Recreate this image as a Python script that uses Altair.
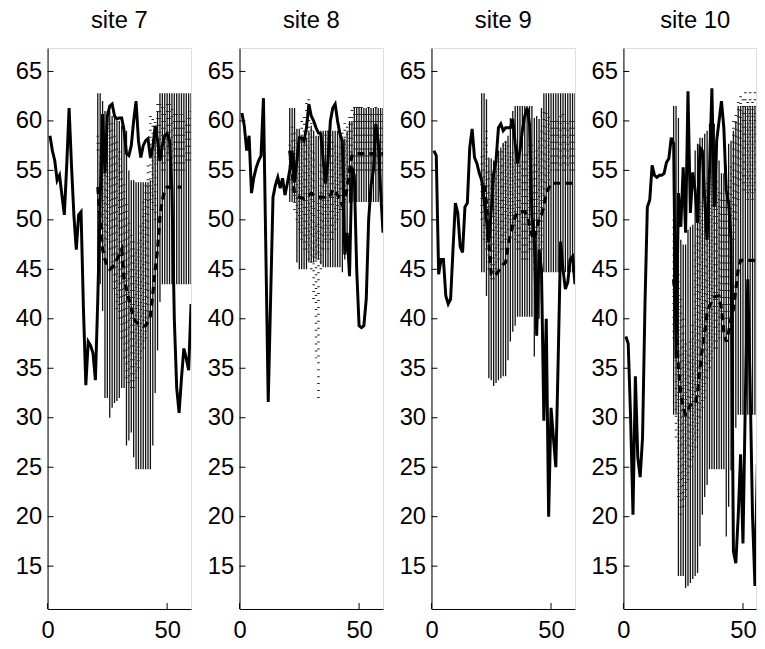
import altair as alt
import pandas as pd

FONT = "Liberation Sans"
YMIN, YMAX = 10.67, 67.37
H = 567

sites = ["site 7", "site 8", "site 9", "site 10"]
y_ticks = [15, 20, 25, 30, 35, 40, 45, 50, 55, 60, 65]
x_ticks = [0, 50]

# ---- site 7 ----
line7 = [58.5, 57, 56, 54, 54.5, 52.5, 50.5, 55.5, 61.3, 55.5,
         50.5, 47, 50.5, 50.8, 41, 33.3, 37.7, 37.3, 36.5, 33.8,
         42, 52, 60.7, 54.7, 60.5, 61.5, 61.7, 60.5, 60.2, 60.3,
         60.3, 59, 56.7, 56.5, 57.5, 60, 62, 58, 56.3, 57.5,
         58, 58.2, 56.3, 57.3, 59.5, 58, 56, 57.5, 58.5, 58.7,
         58, 53, 40, 33, 30.5, 34, 37, 36, 34.8, 41.5]
hi7 = [62.8, 62.8, 62, 61, 61, 61, 60.5, 60.5, 60, 60,
       59.5, 59.5, 59, 55, 54, 54, 53.8, 53.8, 53.8, 53.8,
       53.8, 53.8, 54, 57, 59, 61, 62.8, 62.8, 62.8, 62.8,
       62.8, 62.8, 62.8, 62.8, 62.8, 62.8, 62.8, 62.8, 62.8, 62.8]
lo7 = [43.5, 43.5, 40.8, 32, 32, 30, 31, 31.5, 31.7, 32,
       33, 33, 27.2, 27.7, 28.5, 26, 24.8, 24.8, 24.8, 24.8,
       24.8, 24.8, 24.8, 27.2, 32.5, 36.8, 41.7, 43.5, 43.5, 43.5,
       43.5, 43.5, 43.5, 43.5, 43.5, 43.5, 43.5, 43.5, 43.5, 43.5]
mean7 = [53.3, 50, 47, 46, 45.2, 45, 45.2, 45.5, 46, 46.5,
         47, 44, 43, 42, 41, 40, 39.7, 39.5, 39.4, 39.3,
         39.3, 39.7, 40.3, 42.5, 45, 47, 50.3, 52, 53, 53.3,
         53.3, 53.3, 53.3, 53.3, 53.3, 53.3]
dhi7 = [59, 58, 57, 58, 60, 60, 60, 59, 58, 57,
        55, 54, 52, 50, 49, 48, 47, 48, 50, 52,
        54, 56, 61, 60.5, 60, 62.3, 62, 61.5, 61, 62,
        62, 61.5, 61, 61, 60.5, 61, 60.5, 60, 60.5, 61]
dlo7 = [57, 50, 47, 46, 48, 47, 45, 43, 41, 40,
        38, 36, 34, 33.5, 33, 33, 34, 35, 36, 37,
        38, 40, 52, 51, 50, 56, 56, 55, 55, 56,
        56, 55.5, 55, 55, 55, 55, 55, 56, 56, 56]

# ---- site 8 ----
line8 = [60.8, 59.5, 57, 58.5, 52.7, 54.3, 55.3, 56, 56.5, 62.3,
         47, 31.6, 42, 52.3, 53.5, 54.3, 53.2, 54.2, 52.5, 53.7,
         55, 57, 53.8, 56, 58.3, 58.3, 58, 59.3, 61.7, 60.5,
         60, 59.3, 58.8, 58.7, 56, 53.7, 56, 60, 61.3, 61.7,
         60, 58.7, 58, 46.5, 48.7, 44.3, 55.3, 54.5, 45, 39.3,
         39.1, 39.3, 42, 50, 53.5, 55, 59.7, 58, 53, 48.7]
hi8 = [61.3, 61.3, 61.3, 59.2, 59.2, 58.3, 58.3, 58.3, 59, 59.5,
       59, 58.5, 58.5, 59, 59, 59, 59, 59, 59, 59,
       59, 59, 58.2, 58.2, 59, 60, 60, 61.3, 61.3, 61.3,
       61.3, 61.3, 61.3, 61.3, 61.3, 61.3, 61.3, 61.3, 61.3, 61.3]
lo8 = [51.8, 51.8, 51.8, 45.7, 45, 45, 45, 45, 45.7, 45.7,
       45.7, 46, 46, 45.5, 45.2, 45.2, 45.2, 45.2, 45.2, 45.2,
       45.2, 45.2, 44.7, 46, 48, 51.7, 51.8, 51.8, 51.8, 51.8,
       51.8, 51.8, 51.8, 51.8, 51.8, 51.8, 51.8, 51.8, 51.8, 51.8]
mean8 = [57, 54.7, 52.7, 52.5, 52.3, 52.2, 52.2, 52.3, 52.5, 52.7,
         52.5, 52.3, 52.3, 52.3, 52.3, 52.2, 52.2, 52.5, 53, 53,
         52.5, 52, 51.5, 52, 53.2, 55, 56.5, 56.7, 56.7, 56.7,
         56.7, 56.7, 56.7, 56.7, 56.7, 56.7, 56.7, 56.7, 56.7, 56.7]
dhi8 = [58, 60, 59, 58, 58, 60, 61, 62, 62.3, 60,
        57, 50, 52, 56, 58, 59, 59, 59, 58, 58,
        57, 58, 59, 60, 60, 61, 61.5, 62, 62, 61.8,
        61.5, 61, 61, 61.5, 61, 61, 61.5, 61, 61, 61]
dlo8 = [54, 53, 51, 50, 49, 48, 47, 47, 46, 45,
        42, 36, 32, 45, 47, 48, 47, 48, 48, 49,
        50, 51, 51, 52, 53, 54, 54, 55, 55, 55,
        55, 55, 55, 55, 55, 55, 55, 55, 55, 55]

# ---- site 9 ----
line9 = [57, 56.5, 44.5, 46, 46, 42.3, 41.5, 42, 47, 51.7,
         50.7, 47.3, 46.7, 51.3, 51.7, 57.3, 59.2, 56.3, 55.7, 54.7,
         54, 52, 50, 47.7, 51, 54.7, 56, 59.3, 59.7, 59,
         59.3, 59.3, 59.3, 60.2, 57.7, 55.7, 57, 59, 60.5, 61.3,
         59.7, 50.3, 48.3, 38.3, 47, 45, 29.7, 40, 20, 31,
         28, 25, 36, 47.8, 45, 43, 43.7, 46, 46.3, 43.5]
hi9 = [62.8, 62.8, 62.2, 56.3, 56.2, 56, 56.7, 57, 57.3, 57.8,
       58, 58.5, 60.3, 61, 61.5, 61.5, 61.5, 61.5, 61.5, 61.5,
       61.5, 61.5, 60.3, 60.5, 60.2, 61.3, 62.8, 62.8, 62.8, 62.8,
       62.8, 62.8, 62.8, 62.8, 62.8, 62.8, 62.8, 62.8, 62.8, 62.8]
lo9 = [44.7, 44.7, 42.3, 34, 33.8, 33.2, 33.5, 33.8, 34, 34.2,
       34.2, 35.8, 37.7, 38.7, 39.3, 40.2, 40.2, 40.2, 40.2, 40.2,
       40.2, 40.2, 36.2, 38.3, 40, 41.7, 44.7, 44.7, 44.7, 44.7,
       44.7, 44.7, 44.7, 44.7, 44.7, 44.7, 44.7, 44.7, 44.7, 44.7]
mean9 = [None, 53.5, 51.7, 47.7, 44.5, 44.3, 44.5, 44.8, 45.2, 45.5,
         45.7, 47.3, 48.5, 49.5, 50.3, 50.8, 50.8, 50.8, 50.8, 50.5,
         49.5, 48.5, 48, 49.2, 50, 50.5, 51.5, 52.5, 53.2, 53.7,
         53.7, 53.7, 53.7, 53.7, 53.7, 53.7, 53.7, 53.7, 53.7, 53.7]
dhi9 = [57, 58, 59, 55, 55, 55, 56, 57, 57, 58,
        58, 58, 57, 57, 56, 56, 56, 56, 57, 57,
        58, 58, 56, 57, 58, 59, 61, 61, 61, 60,
        60, 60.5, 60, 60.5, 61, 60.5, 60, 60.5, 60.5, 60.5]
dlo9 = [50, 48, 47, 45, 44, 44, 45, 46, 47, 47,
        48, 49, 50, 49, 48, 47, 47, 46, 46, 46,
        47, 47, 45, 45, 46, 47, 51, 53, 54, 55,
        55.7, 55, 55, 55.5, 55, 55, 55.5, 55, 55, 55]

# ---- site 10 ----
line10 = [38.2, 37.5, 30, 20.2, 34.2, 26, 24, 28, 41.3, 51.3,
          52, 55.5, 54.5, 54.3, 54.5, 54.5, 54.7, 55.8, 56.2, 58.3,
          57.7, 36, 52.7, 49.3, 55.3, 48.7, 63, 50.7, 54.8, 53,
          49.7, 57.3, 57, 52, 48, 55, 63.3, 51.3, 58, 60,
          62, 59.3, 53, 51.7, 48, 16.5, 15.3, 20, 26.3, 17.3,
          32, 44, 33, 20, 13, 25.3, 16.7, 11, 8, 6]
hi10 = [61.5, 61.5, 60.3, 48, 47.5, 47.5, 49, 49.3, 49.5, 57,
        57.7, 58.3, 58.3, 58.7, 59, 59.7, 59.7, 59.7, 58, 56,
        54.7, 54.7, 55.5, 57.7, 58, 59, 60, 61.5, 61.5, 61.5,
        61.5, 61.5, 61.5, 61.5, 61.5, 61.5, 61.5, 61.5, 61.5, 61.5]
lo10 = [30.3, 30.3, 14, 14, 14, 12.8, 13, 13.3, 13.7, 14,
        14.3, 17, 20.2, 22, 23.2, 24.8, 24.8, 24.8, 24.8, 24.8,
        24.8, 24.8, 18, 21, 24.7, 27, 29, 30.3, 30.3, 30.3,
        30.3, 30.3, 30.3, 30.3, 30.3, 30.3, 30.3, 30.3, 30.3, 30.3]
mean10 = [44, 40, 35, 32.5, 31, 30.3, 30.8, 31.3, 31.3, 31.3,
          32.5, 35, 37, 38.7, 40.5, 41.3, 41.8, 42.2, 42.3, 42.3,
          41, 38.7, 37.7, 38.7, 40, 41, 43, 45, 45.9, 45.9,
          45.9, 45.9, 45.9, 45.9, 45.9, 45.9, 45.9, 45.9, 45.9, 45.9]
dhi10 = [50, 48, 45, 42, 40, 38, 37, 38, 40, 48,
         50, 52, 52, 53, 54, 55, 55, 55, 54, 53,
         53, 52, 53, 54, 56, 60, 61, 62, 63, 62.5,
         63, 62.5, 63, 62.5, 63, 62.5, 63, 62.5, 63, 63]
dlo10 = [38, 28, 22, 20.2, 21, 22, 23.7, 25, 26, 27,
         28, 30, 31, 32, 34, 35, 36, 37, 37, 38,
         40, 40, 40, 40, 42, 48, 50, 52, 54, 53,
         53, 52, 53, 52, 53, 52, 53, 52, 53, 53]

line_x = list(range(1, 61))
bar_x = list(range(21, 61))

PX_PER_UNIT = 145 / 60


def panel(title, ly, hi, lo, mean, dhi, dlo, width):
    xmax = width / PX_PER_UNIT
    xs = alt.Scale(domain=[0, xmax], nice=False, zero=False)
    ys = alt.Scale(domain=[YMIN, YMAX], nice=False, zero=False)
    xaxis = alt.Axis(values=x_ticks, labelFontSize=24, labelFont=FONT, labelColor="black",
                     ticks=False, grid=False, title=None, domainColor="black",
                     domainWidth=1, labelPadding=10, labelFlush=False)
    yaxis = alt.Axis(values=y_ticks, labelFontSize=24, labelFont=FONT, labelColor="black",
                     ticks=False, grid=False, title=None, domainColor="black",
                     domainWidth=1, labelPadding=6, minExtent=39, maxExtent=39)
    X = lambda f: alt.X(f, scale=xs, axis=xaxis)
    Y = lambda f: alt.Y(f, scale=ys, axis=yaxis)

    n = len(ly)
    ldf = pd.DataFrame({"x": line_x[:n], "y": ly})
    bdf = pd.DataFrame({"x": bar_x, "lo": lo, "hi": hi, "dlo": dlo, "dhi": dhi})
    mdf = pd.DataFrame({"x": bar_x[:len(mean)], "m": mean}).dropna()

    bars = alt.Chart(bdf).mark_rule(color="#111", strokeWidth=1.3, clip=True).encode(
        x=X("x:Q"), y=Y("lo:Q"), y2="hi:Q")
    dotted = alt.Chart(bdf).mark_rule(color="#222", strokeWidth=2.6, strokeDash=[1, 6],
                                      clip=True).encode(
        x=X("x:Q"), y=Y("dlo:Q"), y2="dhi:Q")
    meanl = alt.Chart(mdf).mark_line(color="black", strokeWidth=3.2, strokeDash=[7, 5],
                                     clip=True).encode(x=X("x:Q"), y=Y("m:Q"))
    line = alt.Chart(ldf).mark_line(color="black", strokeWidth=3, clip=True).encode(
        x=X("x:Q"), y=Y("y:Q"))
    yt = alt.Chart(pd.DataFrame({"v": y_ticks})).mark_rule(color="black", strokeWidth=1).encode(
        y=Y("v:Q"), x=alt.value(0), x2=alt.value(6))
    xt = alt.Chart(pd.DataFrame({"v": x_ticks})).mark_rule(color="black", strokeWidth=1).encode(
        x=X("v:Q"), y=alt.value(H), y2=alt.value(H - 6))
    ttl = alt.Chart(pd.DataFrame({"t": [title]})).mark_text(
        fontSize=24, font=FONT, color="black", baseline="alphabetic", align="center").encode(
        text="t:N", x=alt.value(72.5), y=alt.value(-20.5))
    return alt.layer(bars, dotted, meanl, line, yt, xt, ttl).properties(width=width, height=H)


p7 = panel(sites[0], line7, hi7, lo7, mean7, dhi7, dlo7, 145)
p8 = panel(sites[1], line8, hi8, lo8, mean8, dhi8, dlo8, 145)
p9 = panel(sites[2], line9, hi9, lo9, mean9, dhi9, dlo9, 145)
p10 = panel(sites[3], line10, hi10, lo10, mean10, dhi10, dlo10, 134)

chart = alt.hconcat(p7, p8, p9, p10, spacing=8).properties(
    padding={"left": 0, "top": -3, "right": 0, "bottom": 0}
).configure_view(stroke=None).configure(background="white")

chart.save("out.html", embed_options={"renderer": "svg", "actions": False})
